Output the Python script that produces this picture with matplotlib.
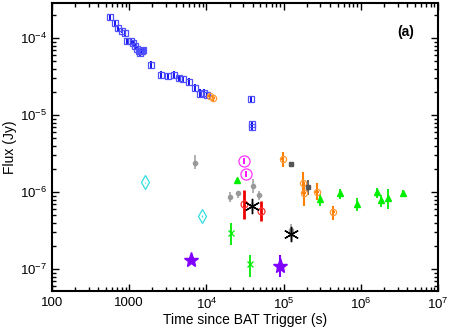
import matplotlib
matplotlib.use("Agg")
import matplotlib.pyplot as plt
from matplotlib.ticker import LogLocator, FixedLocator, FixedFormatter, NullFormatter

plt.rcParams['font.family'] = ['Liberation Sans', 'DejaVu Sans']
plt.rcParams['mathtext.fontset'] = 'custom'
plt.rcParams['mathtext.rm'] = 'Liberation Sans'
plt.rcParams['mathtext.it'] = 'Liberation Sans'

# ---- data ----
blue_t = [563, 655, 722, 810, 883, 950, 1050, 1130, 1200, 1260, 1350, 1420, 1480, 1520, 1400,
          1900, 2560, 3210, 3800, 4420, 5000, 5950, 7100, 8260, 9400, 10300, 37800, 38400, 39000]
blue_f = [1.89e-4, 1.58e-4, 1.33e-4, 1.25e-4, 1.16e-4, 9.2e-5, 9.2e-5, 8.6e-5, 8.0e-5, 7.1e-5,
          6.8e-5, 6.8e-5, 6.7e-5, 6.9e-5, 6.3e-5, 4.5e-5, 3.35e-5, 3.2e-5, 3.35e-5, 3.0e-5,
          2.9e-5, 2.7e-5, 2.25e-5, 1.9e-5, 1.92e-5, 1.8e-5, 1.62e-5, 7.6e-6, 7.1e-6]
blue_e = [1.5e-5, 1.3e-5, 1.1e-5, 1.0e-5, 1.0e-5, 8e-6, 8e-6, 8e-6, 7e-6, 7e-6,
          7e-6, 7e-6, 7e-6, 7e-6, 6e-6, 5e-6, 3.5e-6, 3.5e-6, 3.5e-6, 3e-6,
          3e-6, 3e-6, 2.5e-6, 2.5e-6, 2.5e-6, 2e-6, 1.5e-6, 9e-7, 8e-7]

orange_t = [11100, 12300, 96800, 180000, 183700, 270800, 440600]
orange_f = [1.75e-5, 1.65e-5, 2.72e-6, 1.30e-6, 9.8e-7, 1.01e-6, 5.45e-7]
orange_lo = [1.5e-6, 1.2e-6, 6e-7, 3.5e-7, 3.2e-7, 2.2e-7, 1.1e-7]
orange_hi = [1.5e-6, 1.2e-6, 6e-7, 5.5e-7, 3.0e-7, 3.0e-7, 1.2e-7]

gray_t = [7110, 20230, 25890, 40530, 47730, 124000]
gray_f = [2.41e-6, 8.7e-7, 9.6e-7, 1.20e-6, 9.1e-7, 3.2e-7]
gray_lo = [4e-7, 1.2e-7, 1.3e-7, 2.4e-7, 1.2e-7, 6e-8]
gray_hi = [6e-7, 1.4e-7, 0.8e-7, 3.0e-7, 1.3e-7, 7e-8]

dgray_t = [123600, 205000]
dgray_f = [2.31e-6, 1.17e-6]
dgray_e = [1e-7, 2.6e-7]

magenta_t = [30970, 32290]
magenta_f = [2.53e-6, 1.73e-6]
magenta_e = [2.2e-7, 1.6e-7]

green_tri_t = [24900, 296400, 538000, 879800, 1.645e6, 1.83e6, 2.27e6, 3.47e6]
green_tri_f = [1.45e-6, 8.05e-7, 9.6e-7, 7.1e-7, 9.9e-7, 7.9e-7, 8.5e-7, 9.8e-7]
green_tri_e = [5e-8, 1.4e-7, 1.4e-7, 1.4e-7, 1.5e-7, 1.4e-7, 2.4e-7, 8e-8]

green_x_t = [20650, 36730]
green_x_f = [2.94e-7, 1.15e-7]
green_x_lo = [9e-8, 3.6e-8]
green_x_hi = [1.0e-7, 3.7e-8]

red_t = [30260, 50930]
red_f = [7.1e-7, 5.7e-7]
red_lo = [2.65e-7, 1.5e-7]
red_hi = [3.5e-7, 1.9e-7]

black_t = [39550, 124800]
black_f = [6.6e-7, 2.9e-7]
black_e = [8e-8, 5e-8]

cyan_t = [1603, 8850]
cyan_f = [1.35e-6, 4.92e-7]
cyan_e = [2e-8, 1e-8]

purple_t = [6270, 89800]
purple_f = [1.30e-7, 1.09e-7]
purple_lo = [4e-9, 3e-8]
purple_hi = [4e-9, 4.3e-8]

xtick_vals = [1e2, 1e3, 1e4, 1e5, 1e6, 1e7]
xtick_labels = ['100', '1000', r'$10^{4}$', r'$10^{5}$', r'$10^{6}$', r'$10^{7}$']
ytick_vals = [1e-7, 1e-6, 1e-5, 1e-4]
ytick_labels = [r'$10^{-7}$', r'$10^{-6}$', r'$10^{-5}$', r'$10^{-4}$']

# ---- figure ----
fig = plt.figure(figsize=(4.58, 3.27), dpi=100)
ax = fig.add_axes([52/458, 36/327, 386/458, 288/327])
ax.set_xscale('log')
ax.set_yscale('log')

ax.errorbar(blue_t, blue_f, yerr=blue_e, fmt='s', mfc='none', mec='#5050ff', mew=0.9,
            ms=5, ecolor='#0000ee', elinewidth=1.3, capsize=0, zorder=3)
ax.errorbar(orange_t, orange_f, yerr=[orange_lo, orange_hi],
            xerr=[[v*0.05 for v in orange_t], [v*0.05 for v in orange_t]],
            fmt='o', mfc='none', mec='#ff9933', mew=0.9, ms=4.5, ecolor='#ff8000',
            elinewidth=1.5, capsize=0, zorder=3)
ax.errorbar(gray_t, gray_f, yerr=[gray_lo, gray_hi], fmt='o', color='#999999', ms=3,
            ecolor='#aaaaaa', elinewidth=1.3, capsize=0, zorder=3)
ax.errorbar(dgray_t, dgray_f, yerr=dgray_e, fmt='s', color='#555555', ms=3,
            ecolor='#555555', elinewidth=1.3, capsize=0, zorder=3)
ax.errorbar(magenta_t, magenta_f, yerr=magenta_e, fmt='o', mfc='none', mec='#ff33ff', mew=0.9,
            ms=8, ecolor='#ff00ff', elinewidth=1.3, capsize=0, zorder=3)
ax.errorbar(green_tri_t, green_tri_f, yerr=green_tri_e, fmt='^', color='#00ee00', ms=5,
            ecolor='#00ee00', elinewidth=1.3, capsize=0, zorder=3)
ax.errorbar(green_x_t, green_x_f, yerr=[green_x_lo, green_x_hi], fmt='x', color='#00ee00',
            ms=4, mew=0.9, ecolor='#00ee00', elinewidth=1.3, capsize=0, zorder=3)
ax.errorbar(red_t, red_f, yerr=[red_lo, red_hi], fmt='o', mfc='none', mec='#ff3333', mew=0.9,
            ms=5, ecolor='#ee0000', elinewidth=2.0, capsize=0, zorder=3)
ax.errorbar(black_t, black_f, yerr=black_e, fmt='none', ecolor='#222222',
            elinewidth=1.0, capsize=0, zorder=4)
ax.plot(black_t, black_f, ls='none', marker=(6, 2, 0), color='black', ms=11, mew=1.0, zorder=4)
ax.errorbar(cyan_t, cyan_f, yerr=cyan_e, fmt='d', mfc='none', mec='#33dddd', mew=0.9,
            ms=7, ecolor='#33dddd', elinewidth=1.0, capsize=0, zorder=3)
ax.errorbar(purple_t, purple_f, yerr=[purple_lo, purple_hi], fmt='*', color='#8000ff',
            ms=11, ecolor='#8000ff', elinewidth=1.5, capsize=0, zorder=3)

ax.set_xlim(1e2, 1e7)
ax.set_ylim(5.2e-8, 2.85e-4)

ax.xaxis.set_major_locator(FixedLocator(xtick_vals))
ax.xaxis.set_major_formatter(FixedFormatter(xtick_labels))
ax.xaxis.set_minor_locator(LogLocator(base=10, subs=range(2, 10), numticks=20))
ax.xaxis.set_minor_formatter(NullFormatter())
ax.yaxis.set_major_locator(FixedLocator(ytick_vals))
ax.yaxis.set_major_formatter(FixedFormatter(ytick_labels))
ax.yaxis.set_minor_locator(LogLocator(base=10, subs=range(2, 10), numticks=20))
ax.yaxis.set_minor_formatter(NullFormatter())

ax.tick_params(which='both', direction='in', top=True, right=True, labelsize=9.5, width=1.0)
ax.tick_params(which='major', length=5)
ax.tick_params(which='minor', length=3)
ax.tick_params(axis='x', pad=4)
for s in ax.spines.values():
    s.set_linewidth(1.5)

ax.set_xlabel('Time since BAT Trigger (s)', fontsize=10, labelpad=1)
ax.set_ylabel('Flux (Jy)', fontsize=10, labelpad=2)
ax.text(0.915, 0.9, '(a)', transform=ax.transAxes, fontsize=10, fontweight='bold',
        ha='center', va='center')

fig.savefig('out.png', dpi=100)
